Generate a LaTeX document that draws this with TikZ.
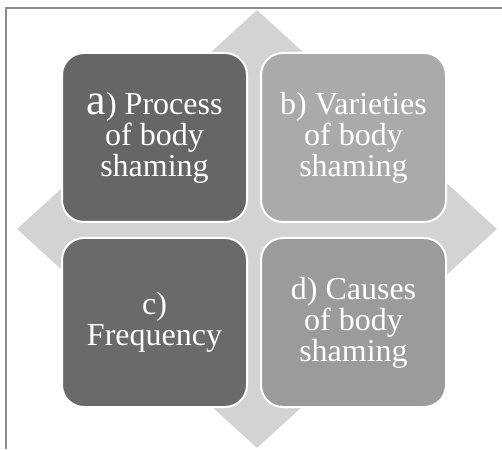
\documentclass[tikz,border=0pt]{standalone}
\usepackage{fontspec}
\setmainfont{Liberation Serif}
\usepackage{xcolor}
\usepackage{tikz}
\usetikzlibrary{shapes.geometric,positioning}

\definecolor{darkbox}{HTML}{666666}
\definecolor{darkboxc}{HTML}{6A6A6A}
\definecolor{lightbox}{HTML}{AAAAAA}
\definecolor{midbox}{HTML}{9B9B9B}
\definecolor{backgray}{HTML}{D3D3D3}
\definecolor{framegray}{HTML}{8C8C8C}

\begin{document}
\begin{tikzpicture}[
    x=1pt, y=1pt,
    quad/.style={rectangle, draw=white, line width=2pt, rounded corners=22pt, minimum width=185pt, minimum height=169pt, align=center, text=white, font=\fontsize{32}{31}\selectfont, inner sep=0pt, outer sep=0pt},
    backdrop/.style={diamond, fill=backgray, minimum width=480pt, minimum height=438pt, inner sep=0pt}
]
    \useasboundingbox (0,0) rectangle (502,449);
    \draw[framegray, line width=2.2pt] (6,0) -- (6,441) -- (502,441);

    \node[backdrop] (back) at (257,220) {};

    \node[quad, fill=darkbox] (a) at (154.5,311.5) {{\fontsize{44}{31}\selectfont a}) Process\\of body\\shaming};
    \node[quad, fill=lightbox, right=14pt of a] (b) {b) Varieties\\of body\\shaming};
    \node[quad, fill=darkboxc, below=16pt of a] (c) {c)\\Frequency};
    \node[quad, fill=midbox, right=14pt of c] (d) {d) Causes\\of body\\shaming};
\end{tikzpicture}
\end{document}
